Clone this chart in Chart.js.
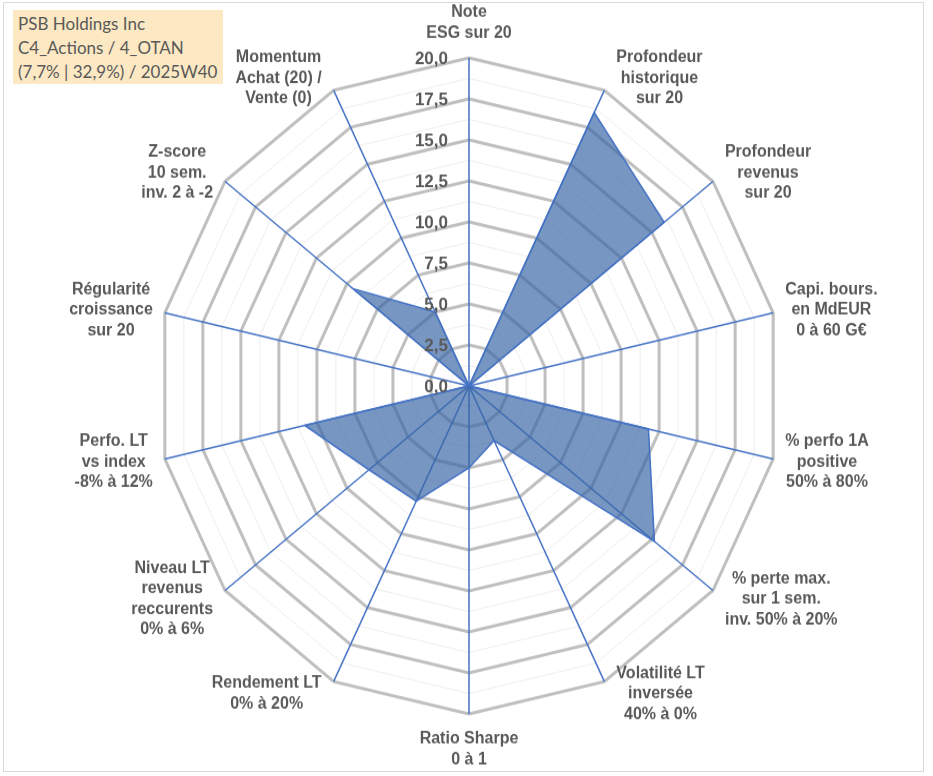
<!DOCTYPE html>
<html>
<head>
<meta charset="utf-8">
<title>PSB Holdings Inc</title>
<script src="https://cdn.jsdelivr.net/npm/chart.js@4.4.1/dist/chart.umd.min.js"></script>
<style>
  html, body { margin: 0; padding: 0; background: #fff; overflow: hidden; }
  #frame { position: absolute; left: 3px; top: 2px; width: 921px; height: 770px; border: 1px solid #D9D9D9; box-sizing: border-box; }
  /* the reference is slightly stretched vertically */
  #wrap { position: absolute; left: 0; top: 0; width: 933px; height: 738px; transform: scaleY(1.0515); transform-origin: 0 0; }
  #titleBox { position: absolute; left: 13px; top: 10px; width: 205px; height: 72px; padding: 2px 0 0 5px;
              background: #FCE8C3; color: #595959; font: 17px Lato, "Open Sans", sans-serif; line-height: 24px; white-space: nowrap; }
</style>
</head>
<body>
<div id="frame"></div>
<div id="wrap"><canvas id="radarChart"></canvas></div>
<div id="titleBox"></div>
<script>
const titleLines = ['PSB Holdings Inc', 'C4_Actions / 4_OTAN', '(7,7% | 32,9%) / 2025W40'];

const axisLabels = [
    ['Note', 'ESG sur 20'],
    ['Profondeur', 'historique', 'sur 20'],
    ['Profondeur', 'revenus', 'sur 20'],
    ['Capi. bours.', 'en MdEUR', '0 à 60 G€'],
    ['% perfo 1A', 'positive', '50% à 80%'],
    ['% perte max.', 'sur 1 sem.', 'inv. 50% à 20%'],
    ['Volatilité LT', 'inversée', '40% à 0%'],
    ['Ratio Sharpe', '0 à 1'],
    ['Rendement LT', '0% à 20%'],
    ['Niveau LT', 'revenus', 'reccurents', '0% à 6%'],
    ['Perfo. LT', 'vs index', '-8% à 12%'],
    ['Régularité', 'croissance', 'sur 20'],
    ['Z-score', '10 sem.', 'inv. 2 à -2'],
    ['Momentum', 'Achat (20) /', 'Vente (0)']
];
const scores = [0, 18.5, 16.0, 0, 11.8, 15.2, 3.7, 5.0, 7.8, 8.2, 10.8, 0, 9.5, 5.0];

const tickValues = [0, 2.5, 5, 7.5, 10, 12.5, 15, 17.5, 20];
const tickLabels = ['0,0', '2,5', '5,0', '7,5', '10,0', '12,5', '15,0', '17,5', '20,0'];

document.getElementById('titleBox').innerHTML = titleLines.join('<br>');

const GREY_TEXT = '#595959';
const LINE_H = 19.5;

// tick values and axis names, drawn over the filled area like in Excel
const labelsPlugin = {
    id: 'labelsPlugin',
    afterDatasetsDraw(chart) {
        const s = chart.scales.r;
        const ctx = chart.ctx;
        ctx.save();
        ctx.fillStyle = GREY_TEXT;
        ctx.textBaseline = 'middle';

        ctx.font = 'bold 17px "Liberation Sans", Arial, sans-serif';
        ctx.textAlign = 'right';
        tickValues.forEach((v, i) => {
            const y = s.yCenter - s.getDistanceFromCenterForValue(v);
            ctx.fillText(tickLabels[i], s.xCenter - 21, y + 1);
        });

        ctx.font = 'bold 16px "Liberation Sans", Arial, sans-serif';
        ctx.textAlign = 'center';
        axisLabels.forEach((lines, i) => {
            const p = s.getPointPosition(i, s.drawingArea);
            const a = s.getIndexAngle(i);
            const sin = Math.sin(a), cos = Math.cos(a);
            const w = Math.max(...lines.map(l => ctx.measureText(l).width));
            const h = lines.length * LINE_H;
            let cx, cy;
            if (Math.abs(sin) < 0.01) {
                cx = p.x;
                cy = p.y - cos * (h / 2 + 14);
            } else {
                cx = p.x + Math.sign(sin) * (12 + w / 2);
                cy = p.y - cos * 13;
            }
            lines.forEach((l, k) => ctx.fillText(l, cx, cy - h / 2 + LINE_H * (k + 0.5)));
        });
        ctx.restore();
    }
};

const ctx = document.getElementById('radarChart').getContext('2d');
const radarChart = new Chart(ctx, {
    type: 'radar',
    data: {
        labels: axisLabels,
        datasets: [{
            label: 'PSB Holdings Inc',
            data: scores,
            backgroundColor: 'rgba(55, 100, 165, 0.68)',
            borderColor: '#4472C4',
            borderWidth: 1.5,
            fill: true,
            pointRadius: 0,
            pointHoverRadius: 0
        }]
    },
    options: {
        responsive: true,
        maintainAspectRatio: false,
        animation: false,
        layout: {
            padding: { left: 69, right: 64, top: 55, bottom: 59 }
        },
        plugins: {
            legend: { display: false },
            tooltip: { enabled: false }
        },
        scales: {
            r: {
                min: 0,
                max: 20,
                ticks: { stepSize: 1.25, display: false },
                grid: {
                    color: c => (c.tick && c.tick.value % 2.5 === 0) ? '#BFBFBF' : '#EDEDED',
                    lineWidth: c => (c.tick && c.tick.value % 2.5 === 0) ? 3 : 1
                },
                angleLines: { color: '#4472C4', lineWidth: 1.5 },
                pointLabels: { display: false }
            }
        }
    },
    plugins: [labelsPlugin]
});
</script>
</body>
</html>
